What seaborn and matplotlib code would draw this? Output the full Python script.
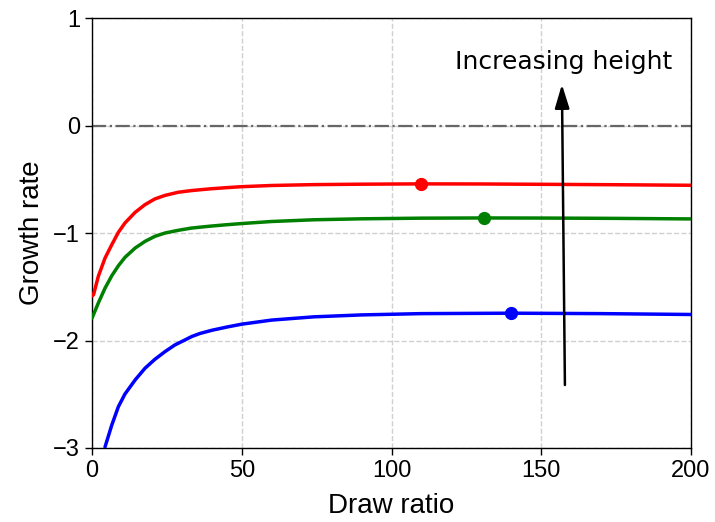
import numpy as np
import pandas as pd
import matplotlib
matplotlib.use("Agg")
import matplotlib.pyplot as plt
import seaborn as sns

# ---- data ----
red_x = [0, 0.5, 2.1, 4.35, 6.6, 8.8, 11.0, 14.4, 17.7, 21.0, 24.4, 28.8, 33.0, 36, 40, 45,
         50, 60, 74, 90, 110, 130, 150, 175, 200]
red_y = [-1.585, -1.575, -1.404, -1.233, -1.109, -0.994, -0.907, -0.808, -0.736, -0.683,
         -0.650, -0.621, -0.606, -0.598, -0.588, -0.578, -0.569, -0.558, -0.550, -0.546,
         -0.543, -0.544, -0.547, -0.551, -0.556]

green_x = [0, 2.1, 4.35, 6.6, 8.8, 11.0, 14.4, 17.7, 21.0, 24.4, 28.8, 33.0, 36, 40, 45,
           50, 60, 74, 90, 110, 131, 150, 175, 200]
green_y = [-1.792, -1.652, -1.513, -1.398, -1.305, -1.227, -1.140, -1.078, -1.031, -1.000,
           -0.975, -0.955, -0.946, -0.935, -0.923, -0.912, -0.893, -0.877, -0.868, -0.862,
           -0.860, -0.861, -0.864, -0.869]

blue_x = [4.35, 6.6, 8.8, 11.0, 14.4, 17.7, 21.0, 24.4, 27.7, 31.1, 33.3, 36, 40, 45, 50,
          60, 74, 90, 110, 140, 170, 200]
blue_y = [-2.99, -2.787, -2.616, -2.498, -2.367, -2.258, -2.175, -2.103, -2.041, -1.994,
          -1.963, -1.935, -1.905, -1.875, -1.848, -1.810, -1.780, -1.762, -1.750, -1.746,
          -1.750, -1.758]

series_names = ["red", "green", "blue"]
series_colors = ["red", "green", "blue"]

x_ticks = [0, 50, 100, 150, 200]
y_ticks = [-3, -2, -1, 0, 1]
x_label = "Draw ratio"
y_label = "Growth rate"
annot_text = "Increasing height"

# ---- build long table ----
frames = []
for name, xs, ys in zip(series_names, [red_x, green_x, blue_x], [red_y, green_y, blue_y]):
    frames.append(pd.DataFrame({"x": xs, "y": ys, "series": name}))
df = pd.concat(frames, ignore_index=True)

sns.set_style("ticks")
plt.rcParams["font.family"] = ["Liberation Sans", "DejaVu Sans"]
plt.rcParams["text.color"] = "black"
plt.rcParams["axes.labelcolor"] = "black"
plt.rcParams["xtick.color"] = "black"
plt.rcParams["ytick.color"] = "black"

fig = plt.figure(figsize=(7.15, 5.22), dpi=100)
ax = fig.add_axes([92 / 715, 1 - 448 / 522, (691 - 92) / 715, (448 - 18) / 522])

ax.grid(True, linestyle="--", color="#d0d0d0", linewidth=1.0)
ax.set_axisbelow(True)

ax.axhline(0, color="#666666", linestyle="-.", linewidth=1.6, zorder=2)

for name, col in zip(series_names, series_colors):
    sub = df[df["series"] == name]
    sns.lineplot(data=sub, x="x", y="y", color=col, linewidth=2.5, ax=ax,
                 estimator=None, sort=False, zorder=3)
    i = sub["y"].values.argmax()
    ax.plot(sub["x"].values[i], sub["y"].values[i], "o", color=col,
            markersize=8.5, zorder=4)

ax.annotate("", xy=(156.9, 0.382), xytext=(157.9, -2.414),
            arrowprops=dict(arrowstyle="-|>,head_length=0.72,head_width=0.22",
                            color="black", lw=1.8, mutation_scale=20,
                            shrinkA=0, shrinkB=0), zorder=5)
ax.text(157.5, 0.587, annot_text, ha="center", va="center", fontsize=18,
        family="DejaVu Sans", color="black", zorder=5)

ax.set_xlim(0, 200)
ax.set_ylim(-3, 1)
ax.set_xticks(x_ticks)
ax.set_yticks(y_ticks)
ax.set_xticklabels([str(t) for t in x_ticks])
ax.set_yticklabels([("\u2212" + str(-t)) if t < 0 else str(t) for t in y_ticks])
ax.tick_params(axis="both", labelsize=17, direction="out", length=5, width=1.0,
               colors="black")
for sp in ax.spines.values():
    sp.set_visible(True)
    sp.set_color("black")
    sp.set_linewidth(1.0)

ax.set_xlabel(x_label, fontsize=20, labelpad=8)
ax.set_ylabel(y_label, fontsize=20, labelpad=6)

fig.savefig("out.png", dpi=100)
